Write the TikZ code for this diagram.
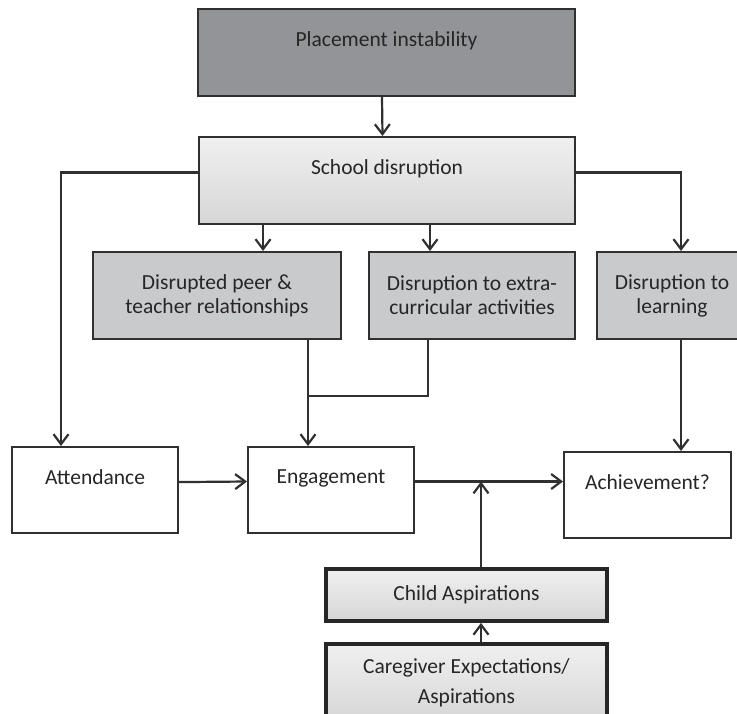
\documentclass[tikz,border=0pt]{standalone}
\usepackage{fontspec}
\setmainfont{Carlito}
\usepackage{xcolor}
\usetikzlibrary{arrows.meta}

\definecolor{darkbox}{HTML}{939497}
\definecolor{midbox}{HTML}{C9CACC}
\definecolor{edgegray}{HTML}{303030}
\definecolor{inkgray}{HTML}{262626}

\tikzset{
    box/.style={draw=edgegray, line width=2pt, inner sep=0pt, align=center,
        text=inkgray, font=\fontsize{21.5}{24}\selectfont},
    upper/.style={text depth=26pt},
    fadebox/.style={top color=white!94!black, bottom color=white!84!black},
    heavybox/.style={fadebox, line width=3.8pt, draw=black!85}
}

\begin{document}
\begin{tikzpicture}[x=1pt, y=-1pt, line width=2.2pt, draw=edgegray,
    >={Straight Barb[length=10pt,width=15pt]}]
                \useasboundingbox (0,0) rectangle (737,714);
                \clip (0,0) rectangle (737,714);

                % top of the chain
                \node[box, upper, fill=darkbox, minimum width=377, minimum height=87] (place) at (386.5,52.5) {Placement instability};
                \node[box, upper, fadebox, minimum width=376, minimum height=87] (school) at (387,180.5) {School disruption};

                % kinds of disruption
                \node[box, fill=midbox, minimum width=248, minimum height=87] (peer) at (217,295.5) {Disrupted peer \&\\teacher relationships};
                \node[box, fill=midbox, minimum width=206, minimum height=87] (extra) at (472,295.5) {Disruption to extra-\\curricular activities};
                \node[box, fill=midbox, minimum width=150, minimum height=87] (learning) at (672,295.5) {Disruption to\\learning};

                % outcomes
                \node[box, upper, fill=white, minimum width=166, minimum height=86] (attend) at (95,490) {Attendance};
                \node[box, upper, fill=white, minimum width=166, minimum height=86] (engage) at (331,490) {Engagement};
                \node[box, upper, fill=white, minimum width=167, minimum height=86] (achieve) at (647.5,495) {Achievement?};

                % aspirations
                \node[box, heavybox, minimum width=281, minimum height=52] (child) at (466.5,595) {Child Aspirations};
                \node[box, heavybox, minimum width=281, minimum height=78, font=\fontsize{21.5}{30}\selectfont] (carer) at (466.5,683) {Caregiver Expectations/\\Aspirations};

                \coordinate (merge) at (308,396);

                % connectors
                \draw[->] ([xshift=-4.5pt]place.south) -- ([xshift=-4.5pt]school.north);
                \draw[->] (school.mid west) -| ([xshift=-34pt]attend.north);
                \draw[->] (school.mid east) -| ([xshift=9pt]learning.north);
                \draw[->] ([xshift=46pt]peer.north |- school.south) -- ([xshift=46pt]peer.north);
                \draw[->] ([xshift=-42pt]extra.north |- school.south) -- ([xshift=-42pt]extra.north);
                \draw[->] ([xshift=91pt]peer.south) -- ([xshift=-23pt]engage.north);
                \draw[line width=1.5pt] ([xshift=-44pt]extra.south) |- (merge);
                \draw[->] ([xshift=9pt]learning.south) -- ([xshift=33.5pt]achieve.north);
                \draw[->] (attend.mid east) -- (engage.mid west);
                \draw[->] (engage.mid east) -- (engage.mid east -| achieve.west);
                \draw[->] ([xshift=14.5pt]child.north) -- ([xshift=14.5pt]child.north |- engage.mid east);
                \draw[->] ([xshift=14.5pt]carer.north) -- ([xshift=14.5pt]child.south);

            \end{tikzpicture}
\end{document}
